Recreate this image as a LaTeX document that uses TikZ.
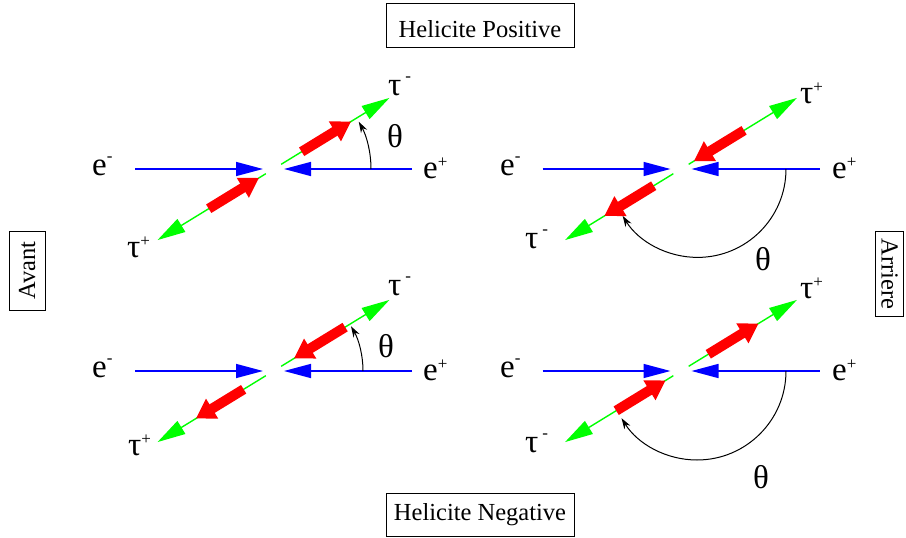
\documentclass[tikz,border=0pt]{standalone}
\usepackage{fontspec}
\setmainfont{Liberation Serif}
\usetikzlibrary{arrows.meta}
\definecolor{beamblue}{RGB}{0,0,255}
\definecolor{taugreen}{RGB}{0,255,0}
\definecolor{spinred}{RGB}{255,0,0}
\newcommand{\LabelFont}{\fontsize{33}{38}\selectfont}
\newcommand{\BoxFont}{\fontsize{24.5}{29}\selectfont}
\newcommand{\ChargePlus}{\raisebox{10.5pt}{\fontsize{17}{17}\selectfont +}}
\newcommand{\ChargeMinus}{\raisebox{14pt}{\fontsize{17}{17}\selectfont -}}
\newcommand{\Collision}[5]{%
  \begin{scope}[shift={(#1)}]
    \draw[beam] (-138.5,0) -- (-10.5,0);
    \draw[beam] (138.5,0) -- (10.5,0);
    \draw[tauline] (31.5:9) -- (31.5:136);
    \draw[tauline] (211.5:9) -- (211.5:136);
    \draw[spin] (31.5:#2) -- (31.5:#3);
    \draw[spin] (211.5:#4) -- (211.5:#5);
  \end{scope}
}

\begin{document}
\begin{tikzpicture}[x=1pt,y=1pt,text=black,
  beam/.style={draw=beamblue,line width=1.5pt,-{Triangle[length=27pt,width=14pt]}},
  tauline/.style={draw=taugreen,line width=1.4pt,-{Triangle[length=28pt,width=15pt]}},
  spin/.style={draw=spinred,line width=10pt,-{Triangle[length=19pt,width=22pt]}},
  angarc/.style={draw=black,line width=1pt,-{Stealth[length=11pt,width=7pt]}},
  lbl/.style={anchor=base west,inner sep=0pt,font=\LabelFont},
  labelbox/.style={draw=black,line width=.9pt,font=\BoxFont,inner sep=0pt,text depth=0pt}]
  \useasboundingbox (0,0) rectangle (906,-538);
  \coordinate (TL) at (273.5,-169);
  \coordinate (TR) at (681,-169);
  \coordinate (BL) at (273.5,-371);
  \coordinate (BR) at (681,-371);
  % helicity positive
  \Collision{TL}{33}{91}{76}{17}
  \Collision{TR}{74}{15}{32}{90}
  % helicity negative
  \Collision{BL}{84}{24}{35}{91}
  \Collision{BR}{32}{91}{76}{18}
  \draw[angarc] ([shift={(97.5,0)}]TL) arc[start angle=0,end angle=29,radius=97.5];
  \draw[angarc] ([shift={(105,0)}]TR) arc[start angle=0,end angle=-148,radius=88.4];
  \draw[angarc] ([shift={(89.5,0)}]BL) arc[start angle=0,end angle=30,radius=89.5];
  \draw[angarc] ([shift={(105,0)}]BR) arc[start angle=0,end angle=-148,radius=89];
  \node[lbl] (TLem) at (92,-175) {e\ChargeMinus};
  \node[lbl] (TLep) at (423,-178) {e\ChargePlus};
  \node[lbl] (TLtm) at (388,-95) {τ\hspace{4pt}\ChargeMinus};
  \node[lbl] (TLtp) at (127,-257) {τ\ChargePlus};
  \node[lbl] (TLth) at (387,-147) {θ};
  \node[lbl] (TRem) at (500,-175) {e\ChargeMinus};
  \node[lbl] (TRep) at (832,-178) {e\ChargePlus};
  \node[lbl] (TRtp) at (800,-103) {τ\ChargePlus};
  \node[lbl] (TRtm) at (525,-248) {τ\hspace{4pt}\ChargeMinus};
  \node[lbl] (TRth) at (755,-270) {θ};
  \node[lbl] (BLem) at (92,-377) {e\ChargeMinus};
  \node[lbl] (BLep) at (423,-380) {e\ChargePlus};
  \node[lbl] (BLtm) at (388,-295) {τ\hspace{4pt}\ChargeMinus};
  \node[lbl] (BLtp) at (128,-455) {τ\ChargePlus};
  \node[lbl] (BLth) at (378,-357) {θ};
  \node[lbl] (BRem) at (500,-377) {e\ChargeMinus};
  \node[lbl] (BRep) at (832,-380) {e\ChargePlus};
  \node[lbl] (BRtp) at (800,-298) {τ\ChargePlus};
  \node[lbl] (BRtm) at (525,-452) {τ\hspace{4pt}\ChargeMinus};
  \node[lbl] (BRth) at (753,-488) {θ};
  \node[labelbox,minimum width=188pt,minimum height=44.4pt,text height=23.6pt] (helpos) at (480,-25.5) {Helicite Positive};
  \node[labelbox,minimum width=188pt,minimum height=43.4pt,text height=11.4pt] (helneg) at (480,-515) {Helicite Negative};
  \node[labelbox,rotate=90,minimum width=78.3pt,minimum height=35.7pt,text height=15.6pt] (avant) at (27.2,-270.8) {Avant};
  \node[labelbox,rotate=-90,minimum width=85pt,minimum height=28.3pt,text height=15pt] (arriere) at (889.2,-274.2) {Arriere};
\end{tikzpicture}
\end{document}
